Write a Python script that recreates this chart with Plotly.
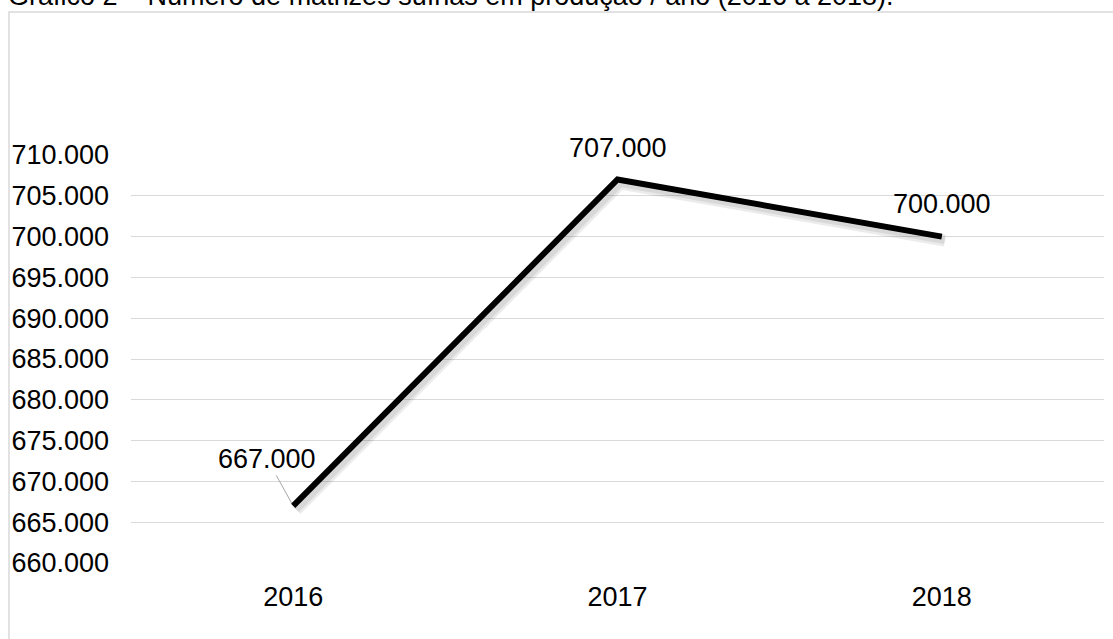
import plotly.graph_objects as go

# Data
anos = ["2016", "2017", "2018"]
matrizes = [667000, 707000, 700000]
rotulos = ["667.000", "707.000", "700.000"]
tick_vals = [660000, 665000, 670000, 675000, 680000, 685000, 690000, 695000, 700000, 705000, 710000]
tick_text = ["660.000", "665.000", "670.000", "675.000", "680.000", "685.000",
             "690.000", "695.000", "700.000", "705.000", "710.000"]
titulo = "Gráfico 2 – Número de matrizes suínas em produção / ano (2016 a 2018)."

W, H = 1113, 639
ML, MR, MT, MB = 131, 9, 155, 76
PW, PH = W - ML - MR, H - MT - MB
FONT = "Liberation Sans, Arial, sans-serif"
FS = 27

y_range = [660000, 710000]
x_range = [-0.5, 2.5]

# shadow offset in pixels (styling only)
sdx, sdy = 3, 4
cat_px = PW / (x_range[1] - x_range[0])
val_px = PH / (y_range[1] - y_range[0])

fig = go.Figure()

# soft shadow of the line (same data, drawn on slightly shifted overlay axes)
fig.add_trace(go.Scatter(
    x=anos, y=matrizes, mode="lines", xaxis="x2", yaxis="y2",
    line=dict(color="rgba(0,0,0,0.08)", width=12), hoverinfo="skip", showlegend=False,
))
fig.add_trace(go.Scatter(
    x=anos, y=matrizes, mode="lines", xaxis="x2", yaxis="y2",
    line=dict(color="rgba(0,0,0,0.08)", width=7), hoverinfo="skip", showlegend=False,
))
fig.add_trace(go.Scatter(
    x=anos, y=matrizes, mode="lines",
    line=dict(color="black", width=6), showlegend=False, cliponaxis=False,
))

# data labels (x given as category index on the category axis)
offsets = [(-26, -47, True), (0, -31, False), (0, -33, False)]
for i, (yv, lab, (ax, ay, arrow)) in enumerate(zip(matrizes, rotulos, offsets)):
    if arrow:
        fig.add_annotation(x=i, y=yv, xref="x", yref="y", text=lab, showarrow=True,
                           arrowhead=0, arrowcolor="#a6a6a6", arrowwidth=1,
                           ax=ax, ay=ay, standoff=3,
                           font=dict(family=FONT, size=FS, color="black"))
    else:
        fig.add_annotation(x=i, y=yv, xref="x", yref="y", text=lab, showarrow=False,
                           yshift=-ay, font=dict(family=FONT, size=FS, color="black"))

# title (partially cut off at top, as in reference)
fig.add_annotation(xref="paper", yref="paper", x=(6 - ML) / PW, y=(H - MB + 4) / PH,
                   xanchor="left", yanchor="middle", text=titulo, showarrow=False,
                   font=dict(family=FONT, size=FS, color="black"))

# frame
fig.add_shape(type="rect", xref="paper", yref="paper",
              x0=(9 - ML) / PW, x1=(W + 20 - ML) / PW,
              y0=(H - MB - (H + 20)) / PH, y1=(H - MB - 12) / PH,
              line=dict(color="#d9d9d9", width=1.5), layer="below")

fig.update_layout(
    width=W, height=H,
    margin=dict(l=ML, r=MR, t=MT, b=MB),
    paper_bgcolor="white", plot_bgcolor="white",
    font=dict(family=FONT, size=FS, color="black"),
    xaxis=dict(type="category", range=x_range, showgrid=False, zeroline=False,
               showline=False, ticks="", ticklabelstandoff=15,
               tickfont=dict(family=FONT, size=FS, color="black")),
    yaxis=dict(range=y_range, tickvals=tick_vals, ticktext=tick_text,
               showgrid=True, gridcolor="#d9d9d9", gridwidth=1.3, zeroline=False,
               showline=False, ticks="", ticklabelstandoff=21,
               tickfont=dict(family=FONT, size=FS, color="black")),
    xaxis2=dict(type="category", overlaying="x",
                range=[x_range[0] - sdx / cat_px, x_range[1] - sdx / cat_px],
                visible=False),
    yaxis2=dict(overlaying="y",
                range=[y_range[0] + sdy / val_px, y_range[1] + sdy / val_px],
                visible=False),
)

fig.write_html("out.html", config={"displayModeBar": False},
               post_script="document.body.style.margin='0';document.body.style.overflow='hidden';")
